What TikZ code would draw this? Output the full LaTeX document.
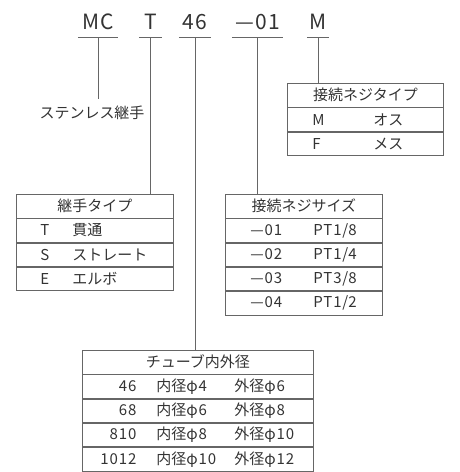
\documentclass[tikz,border=0pt]{standalone}
\usepackage{fontspec}
\setmainfont{Noto Sans CJK JP}
\newfontfamily\spaced[LetterSpace=6]{Noto Sans CJK JP}
\usepackage{tikz}
\usetikzlibrary{positioning}
\definecolor{inkgray}{gray}{0.2}
\definecolor{rulegray}{gray}{0.4}

\begin{document}
\begin{tikzpicture}[
  x=1pt, y=-1pt, node distance=0pt,
  font=\fontsize{15}{18}\selectfont, text=inkgray,
  code/.style={inner sep=0pt, minimum height=30pt, font=\fontsize{21}{24}\spaced},
  lead/.style={draw=rulegray, line width=0.8pt},
  cell/.style={draw=rulegray, line width=0.8pt, inner sep=0pt, minimum height=23.5pt, align=left},
  head/.style={cell, align=center, anchor=north west},
]
\useasboundingbox (0,0) rectangle (460,472);

% ---- part number, underlined
\node[code, minimum width=40pt] (mc) at (98,22) {MC};
\node[code, minimum width=23pt] (ty) at (150.5,22) {T};
\node[code, minimum width=32pt] (sz) at (195,22) {46};
\node[code, minimum width=51pt] (th) at (257.5,22) {—01};
\node[code, minimum width=22pt] (fm) at (318,22) {M};
\foreach \n in {mc,ty,sz,th,fm}
  \draw[lead] (\n.south west) -- (\n.south east);

% ---- series
\node[inner ysep=7pt] (ss) at (92,113) {ステンレス継手};
\draw[lead] (mc.south) -- (mc.south |- ss.north);

% ---- thread type (M / F)
\node[head, text width=156pt] (kt0) at (287,83) {接続ネジタイプ};
\foreach \i/\a/\b [count=\j from 0] in {1/M/オス, 2/F/メス}
  \node[cell, text width=156pt, below=of kt\j] (kt\i) {\hspace*{25pt}\makebox[61pt][l]{\spaced\a}\b};
\draw[lead] (fm.south) -- (fm.south |- kt0.north);

% ---- fitting type
\node[head, text width=157pt] (jt0) at (16,194) {継手タイプ};
\foreach \i/\a/\b [count=\j from 0] in {1/T/貫通, 2/S/ストレート, 3/E/エルボ}
  \node[cell, text width=157pt, below=of jt\j] (jt\i) {\hspace*{24pt}\makebox[32pt][l]{\spaced\a}\b};
\draw[lead] (ty.south) -- (ty.south |- jt0.north);

% ---- thread size
\node[head, text width=157pt] (ks0) at (225,194) {接続ネジサイズ};
\foreach \i/\a/\b [count=\j from 0] in {1/—01/PT1\slash 8, 2/—02/PT1\slash 4, 3/—03/PT3\slash 8, 4/—04/PT1\slash 2}
  \node[cell, text width=157pt, below=of ks\j] (ks\i) {\spaced\hspace*{25pt}\makebox[63pt][l]{\a}\b};
\draw[lead] (th.south) -- (th.south |- ks0.north);

% ---- tube inner / outer diameter
\node[head, text width=231pt] (tb0) at (82,350) {チューブ内外径};
\foreach \i/\a/\b/\c [count=\j from 0] in {1/46/4/6, 2/68/6/8, 3/810/8/10, 4/1012/10/12}
  \node[cell, text width=231pt, below=of tb\j] (tb\i)
    {\makebox[54pt][r]{\spaced\a}\hspace{20pt}\makebox[78pt][l]{内径{\spaced φ\b}}外径{\spaced φ\c}};
\draw[lead] (sz.south) -- (sz.south |- tb0.north);
\end{tikzpicture}
\end{document}
